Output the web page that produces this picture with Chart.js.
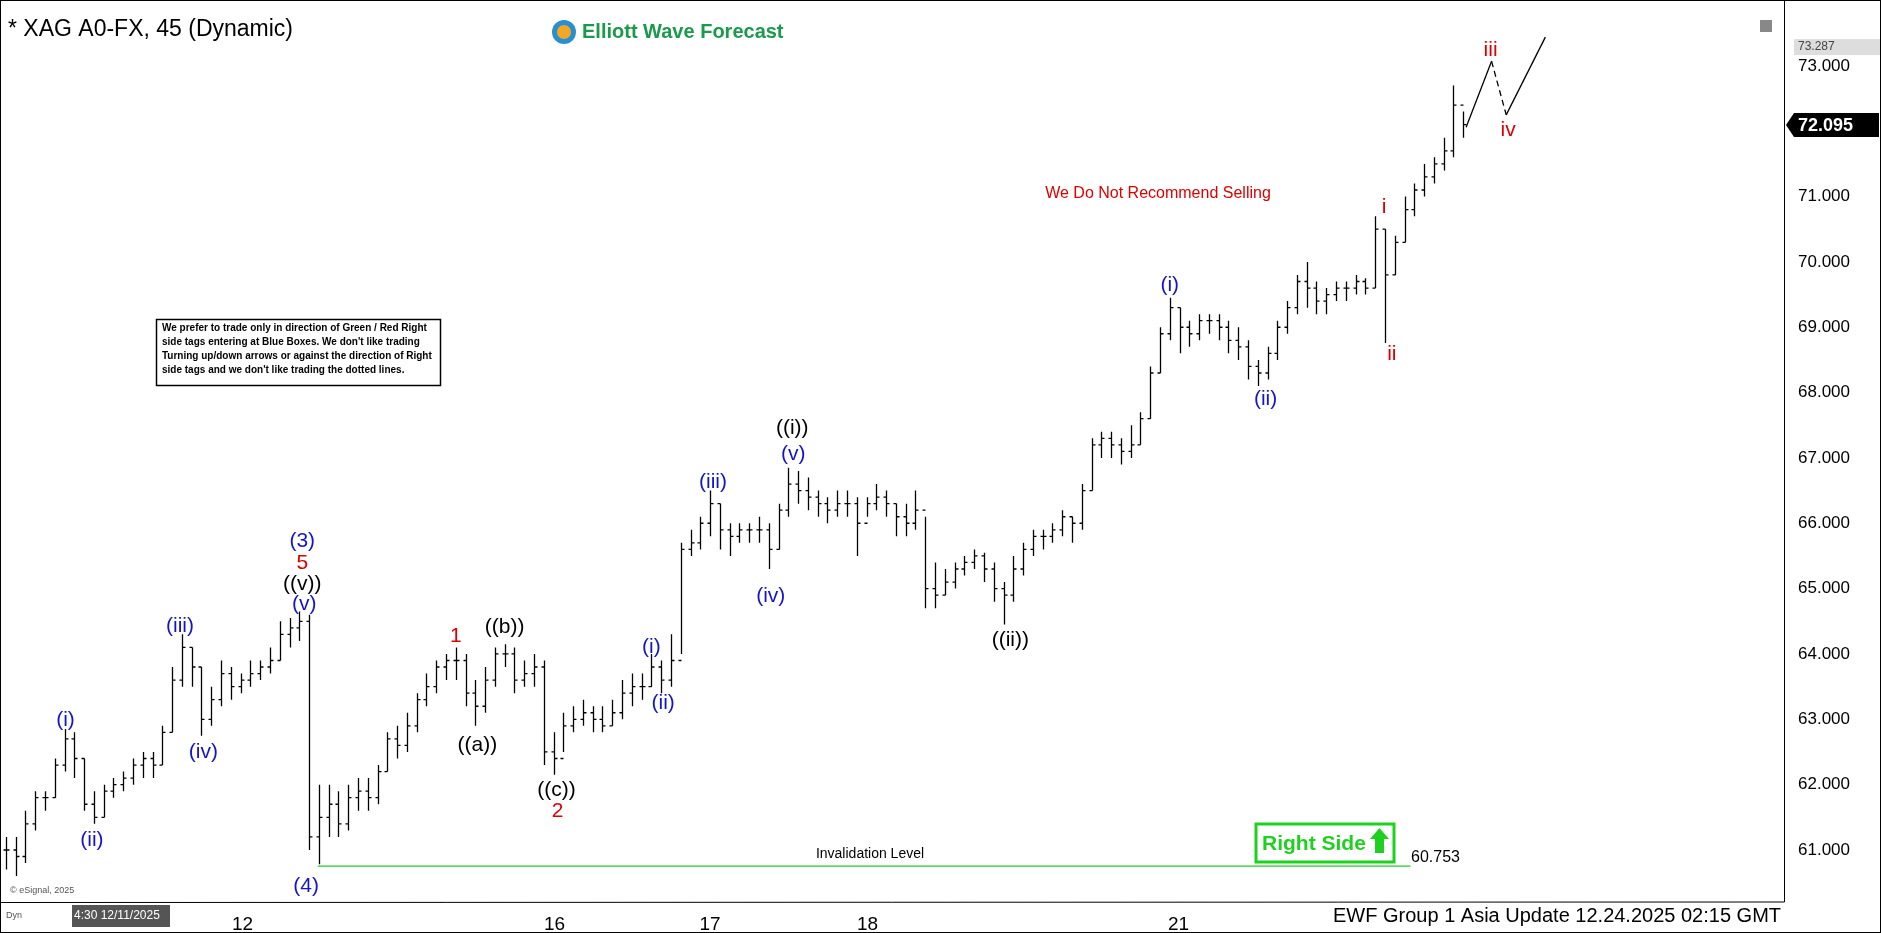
<!DOCTYPE html>
<html><head><meta charset="utf-8">
<script src="https://cdn.jsdelivr.net/npm/chart.js@4.4.1/dist/chart.umd.min.js"></script>
<style>html,body{margin:0;padding:0;background:#fff}#wrap{width:1881px;height:933px}</style>
</head><body><div id="wrap"><canvas id="c" width="1881" height="933"></canvas></div>
<script>
const highs=[61.2,61.2,61.6,61.9,61.9,62.4,62.85,62.8,62.4,61.9,62.0,62.1,62.2,62.4,62.5,62.5,62.9,63.8,64.3,64.1,63.8,63.5,63.9,63.8,63.7,63.9,63.9,64.1,64.5,64.55,64.65,64.6,62.0,62.0,61.9,62.0,62.1,62.1,62.3,62.8,62.9,63.1,63.4,63.7,63.9,64.0,64.1,64.0,63.6,63.8,64.1,64.15,64.1,63.9,64.0,63.9,62.8,63.1,63.2,63.3,63.2,63.2,63.3,63.6,63.7,63.7,64.0,63.9,64.3,65.7,65.9,66.1,66.5,66.3,66.0,66.0,66.0,66.1,66.0,66.3,66.85,66.8,66.7,66.5,66.4,66.5,66.5,66.4,66.4,66.6,66.5,66.3,66.3,66.5,66.1,65.4,65.3,65.4,65.5,65.6,65.55,65.4,65.1,65.5,65.7,65.9,65.9,66.0,66.2,66.1,66.6,67.3,67.4,67.4,67.3,67.5,67.7,68.4,69.0,69.45,69.3,69.1,69.2,69.2,69.2,69.1,69.0,68.8,68.5,68.7,69.1,69.4,69.8,70.0,69.7,69.6,69.7,69.7,69.8,69.75,70.7,70.5,70.4,71.0,71.2,71.5,71.6,71.9,72.7,72.3];
const lows=[60.7,60.6,60.8,61.3,61.6,61.8,62.2,62.1,61.6,61.4,61.5,61.8,61.9,62.0,62.1,62.1,62.3,62.8,63.5,63.5,62.75,62.9,63.2,63.3,63.4,63.5,63.6,63.7,63.9,64.1,64.2,61.0,60.78,61.2,61.2,61.3,61.6,61.6,61.7,62.2,62.4,62.5,62.8,63.2,63.4,63.6,63.6,63.2,62.9,63.1,63.5,63.8,63.4,63.5,63.5,62.3,62.15,62.5,62.8,62.9,62.8,62.8,62.9,63.0,63.2,63.3,63.5,63.4,63.5,64.0,65.5,65.6,65.8,65.6,65.5,65.7,65.7,65.7,65.3,65.6,66.1,66.3,66.2,66.1,66.0,66.1,66.1,65.5,66.1,66.2,66.1,65.8,65.8,65.9,64.7,64.7,64.9,65.0,65.2,65.3,65.1,64.8,64.45,64.8,65.2,65.5,65.6,65.7,65.8,65.7,65.9,66.5,67.0,67.0,66.9,67.0,67.2,67.6,68.3,68.8,68.6,68.7,68.8,68.9,68.8,68.6,68.5,68.2,68.1,68.2,68.5,68.9,69.2,69.3,69.2,69.2,69.4,69.4,69.5,69.5,69.6,68.76,69.8,70.3,70.7,71.0,71.2,71.4,71.6,71.9];
const closes=[61.0,60.9,61.4,61.8,61.8,62.3,62.7,62.4,61.7,61.5,61.9,62.0,62.1,62.3,62.4,62.3,62.8,63.6,64.1,63.8,63.0,63.3,63.7,63.5,63.6,63.7,63.8,63.9,64.3,64.4,64.5,61.2,61.5,61.7,61.4,61.8,61.9,61.8,62.2,62.7,62.6,62.9,63.3,63.5,63.8,63.9,63.9,63.4,63.2,63.6,64.0,64.0,63.6,63.7,63.8,62.5,62.4,62.9,63.0,63.1,63.0,62.9,63.1,63.4,63.5,63.5,63.8,63.6,63.9,65.6,65.7,66.0,66.3,65.9,65.8,65.9,65.9,65.9,65.6,66.2,66.6,66.5,66.4,66.3,66.2,66.3,66.3,66.0,66.3,66.4,66.3,66.1,66.0,66.2,65.0,64.9,65.1,65.3,65.4,65.5,65.3,65.0,64.9,65.3,65.6,65.8,65.8,65.9,66.1,66.0,66.5,67.2,67.3,67.2,67.1,67.2,67.6,68.3,68.9,69.3,69.0,68.9,69.1,69.1,69.0,68.8,68.7,68.4,68.3,68.6,69.0,69.3,69.7,69.6,69.4,69.5,69.6,69.6,69.7,69.6,70.5,69.8,70.3,70.8,71.1,71.3,71.5,71.7,72.4,72.1];
const yTicks=[61,62,63,64,65,66,67,68,69,70,71,72,73];
const xTickPos=[24.2,56.1,72,88.1,119.9];
const xTickLabels=['12','16','17','18','21'];
const invalidation=[{x:31.9,y:60.753},{x:143.6,y:60.753}];
const projA=[{x:149.3,y:72.06},{x:151.9,y:73.07}];
const projB=[{x:151.9,y:73.07},{x:153.4,y:72.25}];
const projC=[{x:153.4,y:72.25},{x:157.4,y:73.44}];
const waveLabels=[
['(i)','#1515c8',6.1,62.98],['(ii)','#1515c8',8.8,61.15],['(iii)','#1515c8',17.8,64.43],['(iv)','#1515c8',20.2,62.5],
['(3)','#1515c8',30.3,65.72],['5','#d00',30.3,65.39],['((v))','#000',30.3,65.06],['(v)','#1515c8',30.5,64.76],['(4)','#1515c8',30.7,60.45],
['1','#d00',46,64.27],['((b))','#000',51,64.41],['((a))','#000',48.2,62.61],['((c))','#000',56.3,61.92],['2','#d00',56.4,61.59],
['(i)','#1515c8',66,64.1],['(ii)','#1515c8',67.2,63.24],['(iii)','#1515c8',72.3,66.63],['(iv)','#1515c8',78.2,64.89],
['((i))','#000',80.4,67.46],['(v)','#1515c8',80.5,67.06],['((ii))','#000',102.7,64.21],
['(i)','#1515c8',119,69.64],['(ii)','#1515c8',128.8,67.9],['i','#d00',140.9,70.83],['ii','#d00',141.7,68.58],
['iii','#d00',151.8,73.24],['iv','#d00',153.6,72.01]];
const F='"Liberation Sans", Arial, sans-serif';

const ohlc={id:'ohlc',afterDatasetsDraw(ch){
 const x=ch.scales.x,y=ch.scales.y,ctx=ch.ctx;ctx.save();ctx.strokeStyle='#000';ctx.lineWidth=1.3;
 for(let i=0;i<closes.length;i++){
  const px=Math.round(x.getPixelForValue(i))+0.5;
  const o=i>0?closes[i-1]:closes[i];
  ctx.beginPath();ctx.moveTo(px,y.getPixelForValue(highs[i]));ctx.lineTo(px,y.getPixelForValue(lows[i]));
  ctx.moveTo(px-3,y.getPixelForValue(o));ctx.lineTo(px,y.getPixelForValue(o));
  ctx.moveTo(px,y.getPixelForValue(closes[i]));ctx.lineTo(px+3,y.getPixelForValue(closes[i]));ctx.stroke();
 }
 ctx.textAlign='center';ctx.textBaseline='middle';ctx.font='21px '+F;
 waveLabels.forEach(l=>{ctx.fillStyle=l[1];ctx.fillText(l[0],x.getPixelForValue(l[2]),y.getPixelForValue(l[3]));});
 ctx.restore();
},afterDraw(ch){
 const ctx=ch.ctx,a=ch.chartArea,y=ch.scales.y,x=ch.scales.x;ctx.save();
 ctx.strokeStyle='#000';ctx.lineWidth=1;ctx.strokeRect(0.5,0.5,1880,932);
 ctx.beginPath();ctx.moveTo(a.right+0.5,0);ctx.lineTo(a.right+0.5,a.bottom);ctx.lineTo(0,a.bottom+0.5);ctx.stroke();
 ctx.textBaseline='middle';ctx.textAlign='left';
 ctx.fillStyle='#000';ctx.font='23px '+F;ctx.fillText('* XAG A0-FX, 45 (Dynamic)',8,30);
 ctx.beginPath();ctx.arc(564,32,12,0,Math.PI*2);ctx.fillStyle='#2a8fd0';ctx.fill();
 ctx.beginPath();ctx.arc(564,32,7,0,Math.PI*2);ctx.fillStyle='#f5a623';ctx.fill();
 ctx.fillStyle='#1a9a4a';ctx.font='bold 20px '+F;ctx.fillText('Elliott Wave Forecast',582,32);
 ctx.fillStyle='#d00';ctx.font='16px '+F;ctx.textAlign='center';ctx.fillText('We Do Not Recommend Selling',1158,194);
 ctx.fillStyle='#fff';ctx.fillRect(156,319,284,66);ctx.strokeStyle='#000';ctx.lineWidth=1.5;ctx.strokeRect(156.5,319.5,284,66);
 ctx.fillStyle='#000';ctx.font='bold 10px '+F;ctx.textAlign='left';
 ['We prefer to trade only in direction of Green / Red Right','side tags entering at Blue Boxes. We don\'t like trading','Turning up/down arrows or against the direction of Right','side tags and we don\'t like trading the dotted lines.'].forEach((t,i)=>ctx.fillText(t,162,328+i*14));
 ctx.textAlign='center';ctx.font='14px '+F;ctx.fillText('Invalidation Level',870,854);
 ctx.textAlign='left';ctx.font='16px '+F;ctx.fillText('60.753',1411,858);
 ctx.fillStyle='#fff';ctx.fillRect(1255,823,140,40);ctx.strokeStyle='#1fd11f';ctx.lineWidth=3;ctx.strokeRect(1256,824,138,38);
 ctx.fillStyle='#1fd11f';ctx.font='bold 21px '+F;ctx.fillText('Right Side',1262,844);
 ctx.fillRect(1375,837,9,16);ctx.beginPath();ctx.moveTo(1370,839);ctx.lineTo(1379.5,828);ctx.lineTo(1389,839);ctx.fill();
 const py=y.getPixelForValue(72.095);ctx.fillStyle='#000';ctx.beginPath();ctx.moveTo(a.right+2,py);ctx.lineTo(a.right+10,py-12);ctx.lineTo(1879,py-12);ctx.lineTo(1879,py+12);ctx.lineTo(a.right+10,py+12);ctx.fill();
 ctx.fillStyle='#fff';ctx.font='bold 18px '+F;ctx.fillText('72.095',a.right+14,py+1);
 const qy=y.getPixelForValue(73.287);ctx.fillStyle='#ddd';ctx.fillRect(a.right+10,qy-8,86,16);ctx.fillStyle='#444';ctx.font='12px '+F;ctx.fillText('73.287',a.right+14,qy);
 ctx.fillStyle='#888';ctx.fillRect(1760,20,12,12);
 ctx.fillStyle='#fff';ctx.fillRect(1330,903,420,28);ctx.fillStyle='#000';ctx.font='20px '+F;ctx.fillText('EWF Group 1 Asia Update 12.24.2025 02:15 GMT',1333,916);
 ctx.fillStyle='#555';ctx.fillRect(72,905,98,22);ctx.fillStyle='#fff';ctx.font='12px '+F;ctx.fillText('4:30 12/11/2025',74,916);
 ctx.fillStyle='#555';ctx.font='9px '+F;ctx.fillText('© eSignal, 2025',10,891);ctx.fillText('Dyn',6,916);
 ctx.restore();
}};

new Chart(document.getElementById('c'),{type:'line',
 data:{datasets:[
  {data:invalidation,borderColor:'#22cc22',borderWidth:1.2,pointRadius:0},
  {data:projA,borderColor:'#000',borderWidth:1.3,pointRadius:0},
  {data:projB,borderColor:'#000',borderWidth:1.3,borderDash:[6,4],pointRadius:0},
  {data:projC,borderColor:'#000',borderWidth:1.3,pointRadius:0}]},
 options:{responsive:false,devicePixelRatio:1,animation:false,
  layout:{padding:0},
  plugins:{legend:{display:false},tooltip:{enabled:false}},
  scales:{
   x:{type:'linear',min:-0.6,max:181.8,grid:{display:false},border:{display:false},
     afterBuildTicks(s){s.ticks=xTickPos.map(v=>({value:v}));},
     afterFit(s){s.height=31;},
     ticks:{autoSkip:false,maxRotation:0,color:'#000',font:{size:19,family:F},callback:(v,i)=>xTickLabels[i]}},
   y:{position:'right',min:60.204,max:73.76,grid:{display:false},border:{display:false},
     afterBuildTicks(s){s.ticks=yTicks.map(v=>({value:v}));},
     afterFit(s){s.width=97;},
     ticks:{color:'#000',padding:6,font:{size:17,family:F},callback:v=>v.toFixed(3)}}}},
 plugins:[ohlc]});
</script></body></html>
